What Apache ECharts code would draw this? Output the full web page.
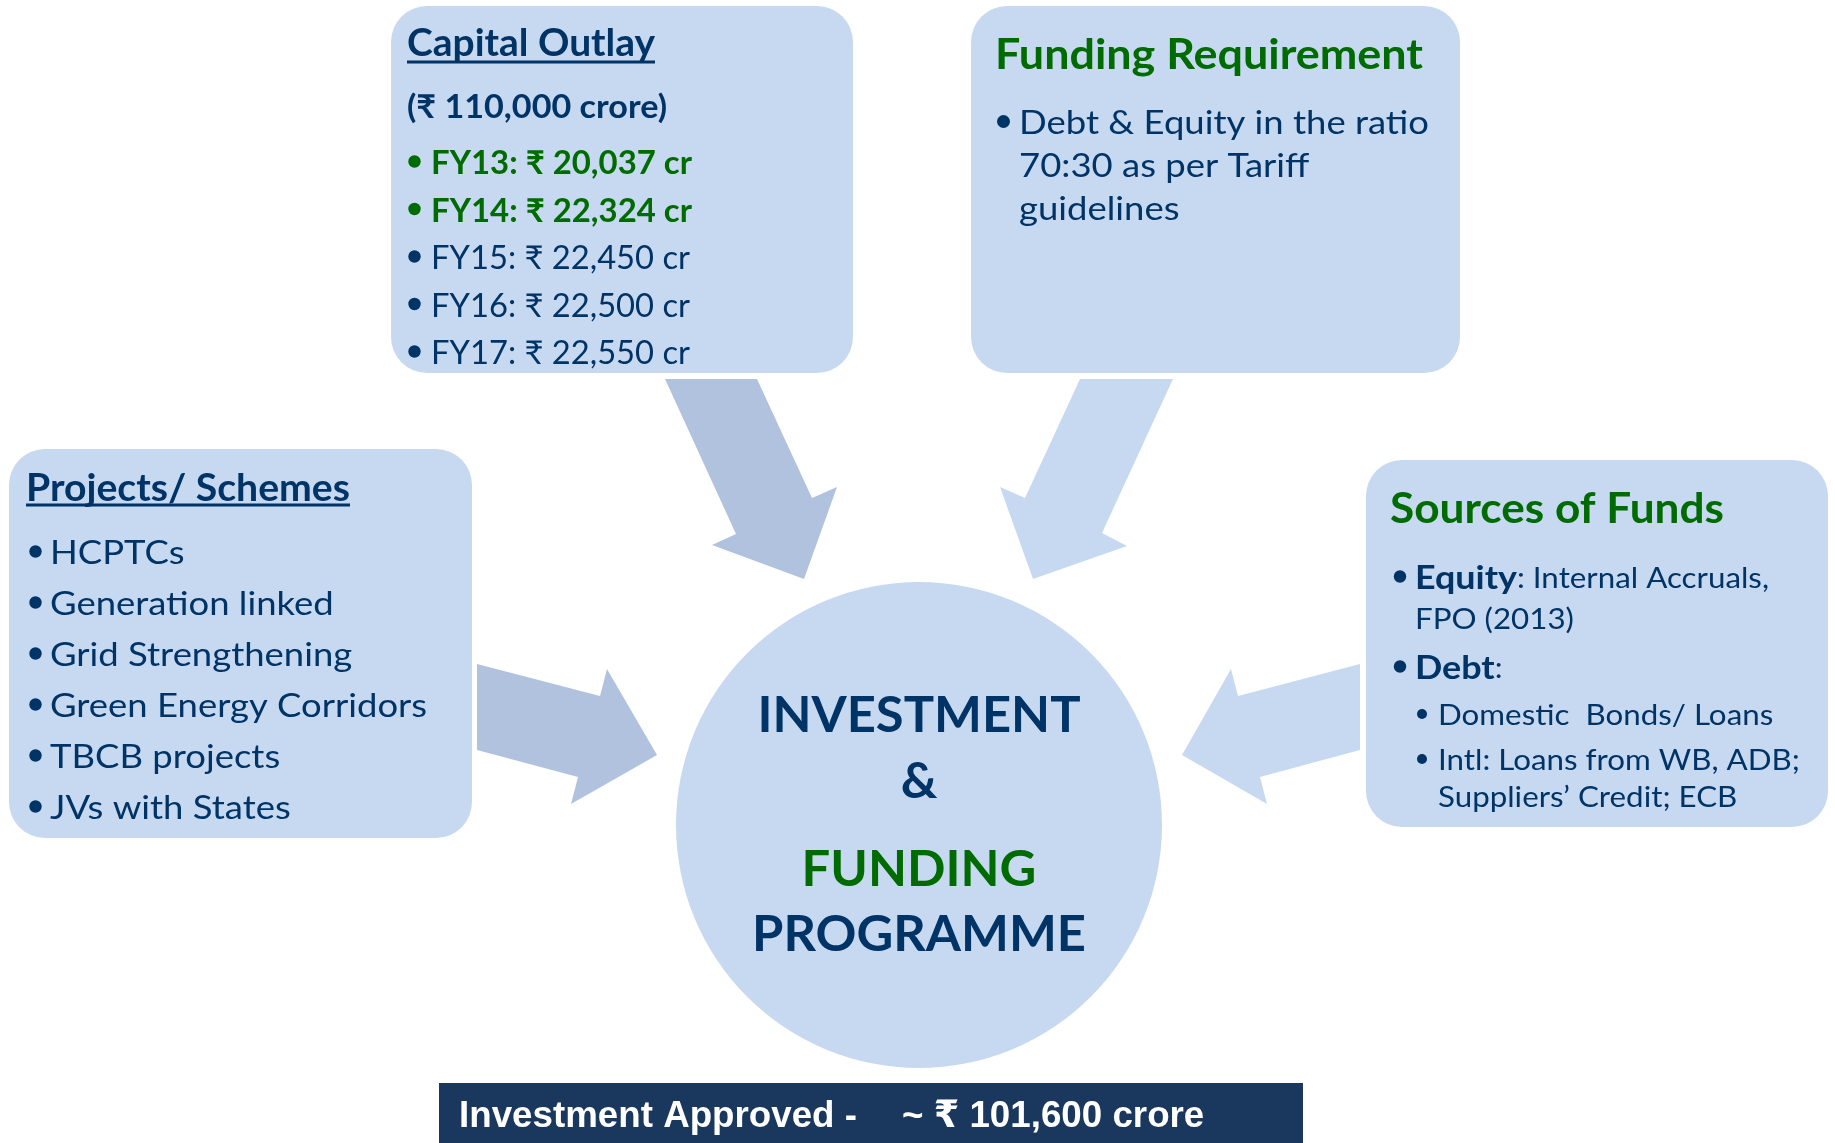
<!DOCTYPE html>
<html><head><meta charset="utf-8">
<script src="https://cdn.jsdelivr.net/npm/echarts@6/dist/echarts.min.js"></script>
<style>html,body{margin:0;padding:0;background:#fff}#main{width:1835px;height:1143px}</style>
</head><body><div id="main"></div>
<script>
// ---------------- data ----------------
const capitalTitle = 'Capital Outlay';
const capitalTotalCrore = 110000;
const fiscalYears = ['FY13', 'FY14', 'FY15', 'FY16', 'FY17'];
const capitalOutlayCrore = [20037, 22324, 22450, 22500, 22550];
const highlightedYears = ['FY13', 'FY14'];

const fundingTitle = 'Funding Requirement';
const fundingLines = ['Debt & Equity in the ratio', '70:30 as per Tariff', 'guidelines'];

const projectsTitle = 'Projects/ Schemes';
const projects = ['HCPTCs', 'Generation linked', 'Grid Strengthening', 'Green Energy Corridors', 'TBCB projects', 'JVs with States'];

const sourcesTitle = 'Sources of Funds';
const equityLabel = 'Equity';
const equitySources = [': Internal Accruals,', 'FPO (2013)'];
const debtLabel = 'Debt';
const debtSources = ['Domestic  Bonds/ Loans', 'Intl: Loans from WB, ADB;', 'Suppliers\u2019 Credit; ECB'];

const centreLines = ['INVESTMENT', '&', 'FUNDING', 'PROGRAMME'];
const approvedLabel = 'Investment Approved -';
const approvedCrore = 101600;

// ---------------- style ----------------
const FONT = "Lato, 'Noto Sans', 'DejaVu Sans', sans-serif";
const BANNER_FONT = "'Liberation Sans', Arial, 'DejaVu Sans', sans-serif";
const CAP = 0.7165;          // cap-height / em for Lato and Liberation Sans
const DY = 2;                // baseline correction
const NAVY = '#003366';
const GREEN = '#006B00';
const BOX = '#C6D9F1';
const DARK_ARROW = '#B0C2DE';
const BANNER = '#1A375E';

const mctx = document.createElement('canvas').getContext('2d');
function tw(text, weight, size, family) { mctx.font = weight + ' ' + size + 'px ' + family; return mctx.measureText(text).width; }
// a text style group: font size from cap height, horizontal scale from reference width
function group(sample, weight, family, capH, width) {
  const size = capH / CAP;
  return { size, weight, family, sx: width / tw(sample, weight, size, family) };
}
function gw(g, str) { return tw(str, g.weight, g.size, g.family) * g.sx; }
const fmt = v => v.toLocaleString('en-US');

const els = [];
function rect(x, y, w, h, r, fill) { els.push({ type: 'rect', silent: true, shape: { x, y, width: w, height: h, r }, style: { fill } }); }
function poly(points, fill) { els.push({ type: 'polygon', silent: true, shape: { points }, style: { fill } }); }
function dot(cx, cy, r, fill) { els.push({ type: 'circle', silent: true, shape: { cx, cy, r }, style: { fill } }); }
function hline(x1, x2, y, w, stroke) { els.push({ type: 'line', silent: true, shape: { x1, y1: y, x2, y2: y }, style: { stroke, lineWidth: w } }); }
function txt(str, x, y, g, fill, align) {
  align = align || 'left';
  els.push({ type: 'text', silent: true, x, y: y + DY, scaleX: g.sx, scaleY: 1, originX: 0, originY: 0, style: {
    text: str, fontSize: g.size, fontWeight: g.weight, fontFamily: g.family, fill,
    align, verticalAlign: 'middle', textAlign: align, textVerticalAlign: 'middle' } });
}

// ---------------- arrows ----------------
poly([[665,379],[757,379],[812,498],[837,487],[804,579],[712,545],[736,534]], DARK_ARROW);
poly([[1080,379],[1173,379],[1102,533],[1127,546],[1033,579],[1000,487],[1025,498]], BOX);
poly([[477,664],[600,696],[607,669],[657,755],[571,804],[578,777],[477,750]], DARK_ARROW);
poly([[1360,664],[1238,696],[1231,669],[1182,755],[1267,804],[1260,777],[1360,750]], BOX);

// ---------------- boxes ----------------
rect(391, 6, 462, 367, 36, BOX);
rect(971, 6, 489, 367, 36, BOX);
rect(9, 449, 463, 389, 36, BOX);
rect(1366, 460, 462, 367, 36, BOX);
dot(919, 825, 243, BOX);
rect(439, 1083, 864, 70, 0, BANNER);

// ---------------- capital outlay ----------------
const gCapTitle = group(capitalTitle, 'bold', FONT, 27, 248);
txt(capitalTitle, 407, 41.5, gCapTitle, NAVY);
hline(407, 407 + gw(gCapTitle, capitalTitle), 62, 3, NAVY);
const totalStr = '(\u20B9 ' + fmt(capitalTotalCrore) + ' crore)';
txt(totalStr, 407, 105, group(totalStr, 'bold', FONT, 23.5, 260), NAVY);
const capRows = fiscalYears.map((fy, i) => ({ label: fy + ': \u20B9 ' + fmt(capitalOutlayCrore[i]) + ' cr', hi: highlightedYears.includes(fy) }));
const regRow = capRows.find(r => !r.hi) || capRows[0];
const hiRow = capRows.find(r => r.hi) || capRows[0];
const gCapReg = group(regRow.label, 'normal', FONT, 23.5, 259);
const gCapBold = group(hiRow.label, 'bold', FONT, 23.5, 261);
capRows.forEach((r, i) => {
  const y = 161.5 + i * 47.5;
  const c = r.hi ? GREEN : NAVY;
  dot(414.5, y, 6.2, c);
  txt(r.label, 431, y, r.hi ? gCapBold : gCapReg, c);
});

// ---------------- funding requirement ----------------
txt(fundingTitle, 995, 53, group(fundingTitle, 'bold', FONT, 30, 428), GREEN);
const gFund = group(fundingLines[0], 'normal', FONT, 23.5, 410);
dot(1003.5, 121.5, 6.5, NAVY);
fundingLines.forEach((l, i) => txt(l, 1019, 121.5 + i * 43, gFund, NAVY));

// ---------------- projects ----------------
const gProjTitle = group(projectsTitle, 'bold', FONT, 27, 324);
txt(projectsTitle, 26, 486.5, gProjTitle, NAVY);
hline(26, 26 + gw(gProjTitle, projectsTitle), 505, 3, NAVY);
const gProj = group(projects[3], 'normal', FONT, 23.5, 377);
projects.forEach((p, i) => {
  const y = 551.5 + i * 51;
  dot(35.5, y, 6.2, NAVY);
  txt(p, 50, y, gProj, NAVY);
});

// ---------------- sources of funds ----------------
txt(sourcesTitle, 1390, 507, group(sourcesTitle, 'bold', FONT, 30, 334), GREEN);
const gSrcBold = group(equityLabel, 'bold', FONT, 23, 102);
const gSrcReg = group(debtSources[1], 'normal', FONT, 21, 362);
dot(1400, 576.5, 6.2, NAVY);
txt(equityLabel, 1415, 576.5, gSrcBold, NAVY);
txt(equitySources[0], 1415 + gw(gSrcBold, equityLabel), 576.5, gSrcReg, NAVY);
txt(equitySources[1], 1415, 617.5, gSrcReg, NAVY);
dot(1400, 666.5, 6.2, NAVY);
txt(debtLabel, 1415, 666.5, gSrcBold, NAVY);
txt(':', 1415 + gw(gSrcBold, debtLabel), 666.5, gSrcReg, NAVY);
const debtY = [714, 759, 796];
debtSources.forEach((d, i) => {
  if (i < 2) dot(1422, debtY[i], 5, NAVY);
  txt(d, 1438, debtY[i], gSrcReg, NAVY);
});

// ---------------- centre ----------------
const gCentre = group(centreLines[3], 'bold', FONT, 36, 334);
const centreY = [714, 780, 868, 933];
const centreColor = [NAVY, NAVY, GREEN, NAVY];
centreLines.forEach((l, i) => txt(l, 919, centreY[i], gCentre, centreColor[i], 'center'));

// ---------------- banner ----------------
const gBanner = group(approvedLabel, 'bold', BANNER_FONT, 27, 398);
txt(approvedLabel, 459, 1115, gBanner, '#FFFFFF');
txt('~ \u20B9 ' + fmt(approvedCrore) + ' crore', 902, 1115, gBanner, '#FFFFFF');

const chart = echarts.init(document.getElementById('main'), null, { renderer: 'canvas' });
chart.setOption({ backgroundColor: '#FFFFFF', animation: false, graphic: { elements: els } });
</script>
</body></html>
